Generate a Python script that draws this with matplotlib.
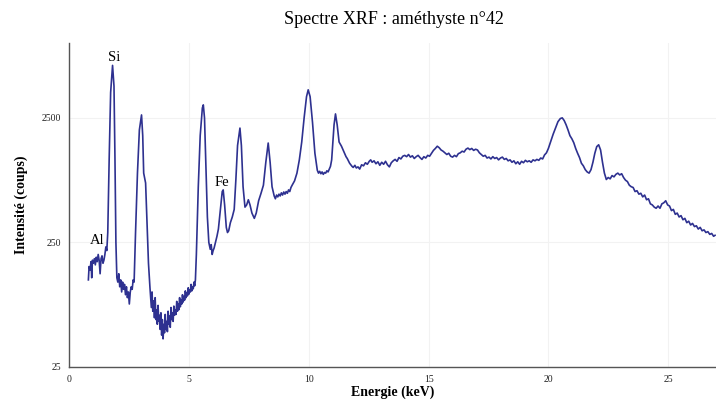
import numpy as np
import matplotlib.pyplot as plt

# Spectre XRF : énergie (keV) et intensité (coups)
# zone Al / Si / raie ~3 keV
e_1 = [0.79, 0.82, 0.86, 0.90, 0.93, 0.96, 1.00, 1.04, 1.08, 1.12, 1.16, 1.20,
       1.24, 1.28, 1.32, 1.36, 1.40, 1.44, 1.48, 1.52, 1.56, 1.60, 1.66, 1.72,
       1.80, 1.86, 1.90, 1.94, 1.98, 2.02, 2.06, 2.10, 2.14, 2.18, 2.22, 2.26,
       2.30, 2.34, 2.38, 2.42, 2.46, 2.50, 2.54, 2.58, 2.62, 2.66, 2.70, 2.76,
       2.84, 2.92, 3.01, 3.06, 3.10, 3.14, 3.18, 3.24, 3.30, 3.36]
c_1 = [125, 160, 150, 175, 130, 180, 170, 185, 165, 190, 175, 200,
       180, 140, 185, 195, 170, 180, 200, 230, 215, 300, 1200, 4000,
       6600, 4500, 1200, 250, 130, 120, 140, 110, 125, 100, 120, 105,
       115, 95, 110, 90, 100, 80, 100, 110, 105, 125, 120, 300,
       900, 2000, 2640, 1800, 900, 820, 750, 350, 170, 110]

# creux 3.4 - 5.3 keV
e_2 = [3.42, 3.45, 3.48, 3.52, 3.55, 3.58, 3.61, 3.64, 3.67, 3.70, 3.73, 3.76,
       3.79, 3.82, 3.85, 3.88, 3.91, 3.94, 3.97, 4.00, 4.03, 4.06, 4.09, 4.12,
       4.15, 4.18, 4.21, 4.24, 4.27, 4.30, 4.33, 4.36, 4.39, 4.42, 4.45, 4.48,
       4.51, 4.54, 4.57, 4.60, 4.63, 4.66, 4.69, 4.72, 4.75, 4.78, 4.81, 4.84,
       4.87, 4.90, 4.93, 4.96, 4.99, 5.02, 5.05, 5.08, 5.11, 5.14, 5.17, 5.20,
       5.23, 5.26]
c_2 = [75, 100, 70, 85, 62, 90, 60, 72, 55, 78, 58, 65,
       50, 68, 45, 60, 42, 55, 47, 66, 50, 58, 48, 70,
       55, 64, 52, 75, 60, 68, 58, 77, 65, 72, 66, 84,
       70, 80, 72, 90, 76, 86, 80, 95, 83, 92, 86, 102,
       90, 98, 93, 108, 96, 104, 100, 115, 102, 110, 106, 120,
       112, 125]

# raies 5.5 - 8.5 keV (Fe etc.)
e_3 = [5.30, 5.38, 5.46, 5.55, 5.59, 5.64, 5.70, 5.76, 5.82, 5.88, 5.92, 5.96,
       6.00, 6.04, 6.10, 6.16, 6.22, 6.30, 6.38, 6.42, 6.48, 6.55, 6.60, 6.65,
       6.72, 6.80, 6.88, 6.95, 7.02, 7.12, 7.18, 7.25, 7.33, 7.40, 7.47, 7.54,
       7.62, 7.72, 7.80, 7.90, 8.00, 8.10, 8.20, 8.30, 8.38, 8.46]
c_3 = [200, 700, 1800, 3000, 3180, 2500, 1000, 400, 250, 220, 240, 200,
       215, 225, 250, 280, 320, 450, 640, 660, 500, 330, 300, 310,
       360, 400, 460, 800, 1500, 2070, 1500, 700, 480, 500, 550, 500,
       430, 390, 430, 540, 620, 720, 1100, 1570, 1100, 700]

# 8.5 - 11.9 keV
e_4 = [8.55, 8.60, 8.65, 8.70, 8.75, 8.80, 8.85, 8.90, 8.95, 9.00, 9.05, 9.10,
       9.15, 9.20, 9.25, 9.30, 9.40, 9.50, 9.60, 9.70, 9.80, 9.90, 9.97, 10.05,
       10.15, 10.25, 10.35, 10.40, 10.45, 10.50, 10.55, 10.60, 10.65, 10.70, 10.75, 10.80,
       10.85, 10.90, 10.95, 11.05, 11.11, 11.18, 11.26, 11.36, 11.45, 11.50, 11.55, 11.60,
       11.65, 11.70, 11.75, 11.80]
c_4 = [590, 560, 600, 580, 610, 590, 625, 600, 635, 610, 640, 620,
       660, 640, 690, 720, 780, 900, 1150, 1600, 2500, 3700, 4200, 3700,
       2300, 1300, 950, 900, 930, 890, 920, 880, 910, 900, 940, 920,
       970, 1020, 1150, 2200, 2690, 2200, 1600, 1480, 1350, 1280, 1220, 1180,
       1130, 1080, 1050, 1020]

# plateau 11.9 - 20 keV
e_5 = [11.85, 11.92, 11.98, 12.05, 12.12, 12.20, 12.28, 12.36, 12.44, 12.52, 12.58, 12.64,
       12.72, 12.80, 12.88, 12.96, 13.04, 13.12, 13.20, 13.28, 13.36, 13.44, 13.52, 13.60,
       13.68, 13.76, 13.84, 13.92, 14.00, 14.08, 14.16, 14.24, 14.32, 14.40, 14.48, 14.56,
       14.64, 14.72, 14.80, 14.88, 14.96, 15.04, 15.12, 15.20, 15.28, 15.36, 15.44, 15.52,
       15.60, 15.68, 15.76, 15.84, 15.92, 16.00, 16.08, 16.16, 16.24, 16.32, 16.40, 16.48,
       16.56, 16.64, 16.72, 16.80, 16.88, 16.96, 17.04, 17.12, 17.20, 17.28, 17.36, 17.44,
       17.52, 17.60, 17.68, 17.76, 17.84, 17.92, 18.00, 18.08, 18.16, 18.24, 18.32, 18.40,
       18.48, 18.56, 18.64, 18.72, 18.80, 18.88, 18.96, 19.04, 19.12, 19.20, 19.28, 19.36,
       19.44, 19.52, 19.60, 19.68, 19.76, 19.84, 19.92]
c_5 = [1000, 1040, 990, 1010, 970, 1050, 1030, 1090, 1060, 1120, 1150, 1100,
       1130, 1070, 1110, 1040, 1100, 1060, 1120, 1050, 1010, 1090, 1130, 1160,
       1120, 1200, 1170, 1230, 1250, 1220, 1270, 1210, 1240, 1180, 1220, 1250,
       1200, 1160, 1220, 1190, 1250, 1230, 1300, 1370, 1420, 1480, 1440, 1380,
       1350, 1310, 1270, 1300, 1230, 1210, 1250, 1220, 1290, 1310, 1350, 1330,
       1400, 1430, 1390, 1420, 1370, 1400, 1380, 1310, 1270, 1230, 1250, 1190,
       1210, 1170, 1220, 1180, 1200, 1150, 1190, 1210, 1160, 1180, 1130, 1150,
       1100, 1130, 1070, 1110, 1060, 1120, 1090, 1140, 1110, 1130, 1100, 1150,
       1130, 1160, 1140, 1190, 1170, 1260, 1310]

# raies 20.5 et 22 keV puis décroissance
e_6 = [20.00, 20.10, 20.20, 20.30, 20.40, 20.50, 20.58, 20.66, 20.74, 20.82, 20.90, 20.98,
       21.06, 21.14, 21.22, 21.30, 21.38, 21.46, 21.54, 21.62, 21.70, 21.78, 21.86, 21.94,
       22.02, 22.10, 22.18, 22.26, 22.34, 22.42, 22.50, 22.58, 22.66, 22.74, 22.82, 22.90,
       22.98, 23.06, 23.14, 23.22, 23.30, 23.38, 23.46, 23.54, 23.62, 23.70, 23.78, 23.86,
       23.94, 24.02, 24.10, 24.18, 24.26, 24.34, 24.42, 24.50, 24.58, 24.66, 24.74, 24.82,
       24.90, 24.98, 25.06, 25.14, 25.22, 25.30, 25.38, 25.46, 25.54, 25.62, 25.70, 25.78,
       25.86, 25.94, 26.02, 26.10, 26.18, 26.26, 26.34, 26.42, 26.50, 26.58, 26.66, 26.74,
       26.82, 26.90, 26.96]
c_6 = [1420, 1620, 1850, 2080, 2330, 2470, 2500, 2380, 2200, 2000, 1800, 1700,
       1580, 1420, 1300, 1200, 1080, 1030, 960, 920, 900, 960, 1100, 1300,
       1470, 1520, 1380, 1100, 900, 800, 830, 810, 860, 840, 880, 900,
       870, 890, 830, 790, 770, 720, 700, 690, 640, 650, 610, 620,
       580, 600, 550, 560, 510, 500, 480, 470, 490, 470, 510, 520,
       540, 500, 490, 450, 460, 420, 430, 400, 410, 380, 390, 360,
       370, 345, 355, 335, 340, 320, 330, 310, 315, 300, 305, 290,
       295, 280, 285]

energie = e_1 + e_2 + e_3 + e_4 + e_5 + e_6
coups = c_1 + c_2 + c_3 + c_4 + c_5 + c_6

# annotations des raies
elements = ['Al', 'Si', 'Fe']
pos_elements = [(1.15, 257), (1.86, 7600), (6.37, 760)]

fig = plt.figure(figsize=(7.16, 4.01), dpi=100)
ax = fig.add_axes([0.097, 0.085, 0.903, 0.808])

ax.plot(energie, coups, color='#2e3190', lw=1.2)

ax.set_yscale('log')
ax.set_xlim(0, 27)
ax.set_ylim(25, 10000)
ax.set_yticks([25, 250, 2500])
ax.set_yticklabels(['25', '250', '2500'])
ax.minorticks_off()
ax.set_xticks([0, 5, 10, 15, 20, 25])
ax.tick_params(length=0, labelsize=7, pad=6, labelcolor='#222222')
for lab in ax.get_xticklabels() + ax.get_yticklabels():
    lab.set_family('Liberation Serif')

ax.grid(True, color='#f2f2f2', lw=0.8)
ax.set_axisbelow(True)
for s in ['top', 'right']:
    ax.spines[s].set_visible(False)
for s in ['left', 'bottom']:
    ax.spines[s].set_color('#555555')
    ax.spines[s].set_linewidth(1.0)

for nom, (x, y) in zip(elements, pos_elements):
    ax.text(x, y, nom, family='Liberation Serif', fontsize=10.5, ha='center', va='center')

ax.set_xlabel('Energie (keV)', family='Liberation Serif', fontweight='bold', fontsize=10, labelpad=1)
ax.set_ylabel('Intensité (coups)', family='Liberation Serif', fontweight='bold', fontsize=10, labelpad=10)
fig.text(0.55, 0.952, 'Spectre XRF : améthyste n°42', family='Liberation Serif', fontsize=13, ha='center', va='center')

fig.savefig('out.png', dpi=100)
